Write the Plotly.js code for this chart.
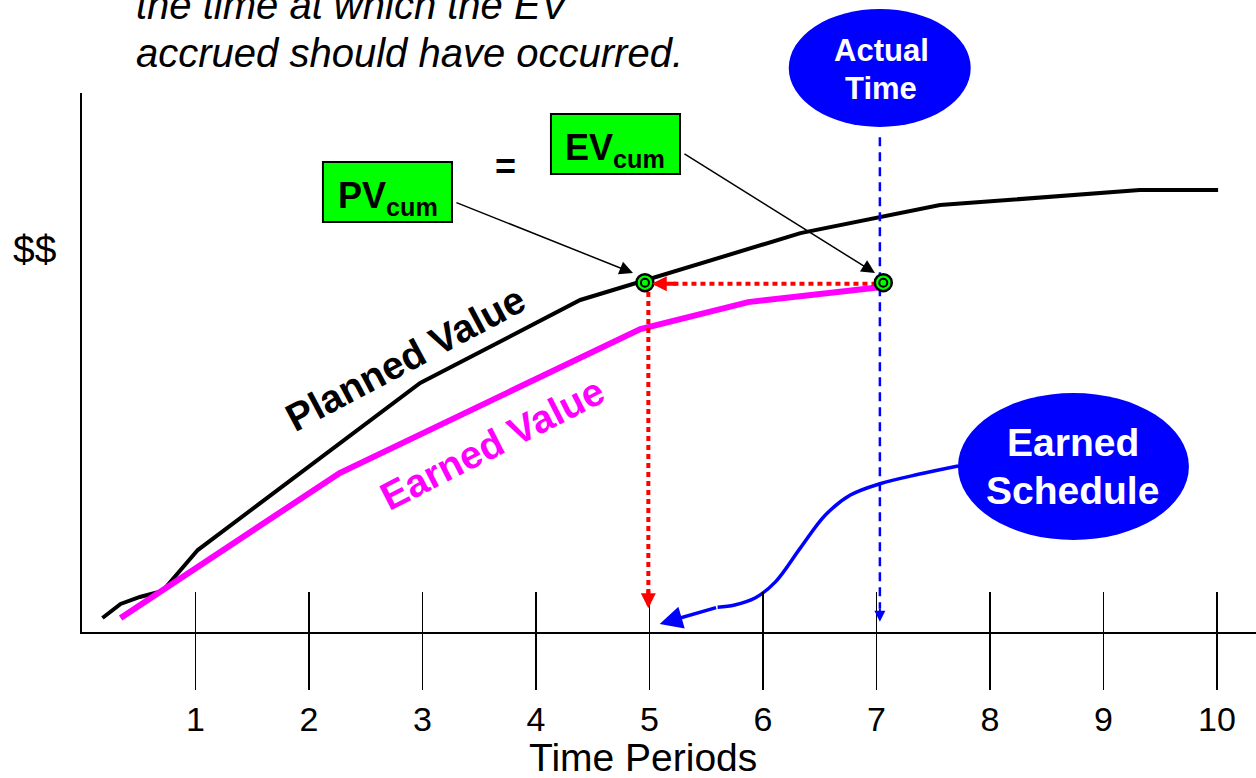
<!DOCTYPE html>
<html>
<head>
<meta charset="utf-8">
<script src="https://cdn.plot.ly/plotly-3.0.1.min.js"></script>
<style>
  html, body { margin: 0; padding: 0; background: #ffffff; }
  #chart { width: 1256px; height: 778px; }
</style>
</head>
<body>
<div id="chart"></div>
<script>
// ---- data ----
const periods = [1, 2, 3, 4, 5, 6, 7, 8, 9, 10];
const periodLabels = ['1', '2', '3', '4', '5', '6', '7', '8', '9', '10'];

const pvX = [0.18, 0.34, 0.51, 0.71, 1.02, 2.98, 4.39, 6.33, 7.56, 9.32, 10.01];
const pvY = [2.6, 5.2, 6.5, 7.6, 15.2, 46.2, 61.6, 74.0, 79.2, 82.0, 82.0];

const evX = [0.34, 2.27, 4.92, 5.87, 7.05];
const evY = [2.6, 29.5, 56.2, 61.2, 64.0];

const cumPointX = [4.96, 7.06];
const cumPointY = [64.8, 64.8];

const earnedScheduleTime = 4.99;
const actualTime = 7.03;
const evCumLevel = 64.6;

// connector curve from "Earned Schedule" bubble
const esCurveX = [7.72, 7.38, 7.03, 6.77, 6.55, 6.33, 6.11, 5.93, 5.75, 5.60];
const esCurveY = [30.8, 29.3, 27.5, 25.4, 21.7, 15.6, 9.3, 6.3, 5.0, 4.6];

const X_RANGE = [0, 10.344];
const Y_RANGE = [0, 100];
const FONT = '"Liberation Sans", Arial, Helvetica, sans-serif';

const traces = [
  { x: pvX, y: pvY, mode: 'lines', line: { color: '#000000', width: 4 }, hoverinfo: 'skip' },
  { x: evX, y: evY, mode: 'lines', line: { color: '#FF00FF', width: 6 }, hoverinfo: 'skip' },
  // red dotted vertical (earned schedule)
  { x: [earnedScheduleTime, earnedScheduleTime], y: [63.1, 7.2], mode: 'lines',
    line: { color: '#FF0000', width: 4, dash: '5px,4px' }, hoverinfo: 'skip' },
  // red dotted horizontal (EV = PV)
  { x: [7.0, 5.17], y: [evCumLevel, evCumLevel], mode: 'lines',
    line: { color: '#FF0000', width: 4, dash: '5px,4px' }, hoverinfo: 'skip' },
  // blue dashed actual time
  { x: [actualTime, actualTime], y: [91.8, 4.3], mode: 'lines',
    line: { color: '#0000FF', width: 2.5, dash: '9px,6px' }, hoverinfo: 'skip' },
  // earned schedule connector
  { x: esCurveX, y: esCurveY, mode: 'lines', line: { color: '#0000FF', width: 3.5, shape: 'spline', smoothing: 1 }, hoverinfo: 'skip' },
  // cumulative points
  { x: cumPointX, y: cumPointY, mode: 'markers',
    marker: { symbol: 'circle', size: 17, color: '#00FF00', line: { color: '#000000', width: 2.5 } }, hoverinfo: 'skip' },
  { x: cumPointX, y: cumPointY, mode: 'markers',
    marker: { symbol: 'circle-open', size: 8, color: '#000000', line: { color: '#000000', width: 2 } }, hoverinfo: 'skip' },
  // dummy for inner tick axis
  { x: [], y: [], xaxis: 'x2', yaxis: 'y', mode: 'markers', hoverinfo: 'skip' }
];

const shapes = [
  // PV cum box
  { type: 'rect', xref: 'x', yref: 'y', x0: 2.123, x1: 3.260, y0: 76.07, y1: 87.20,
    fillcolor: '#00FF00', line: { color: '#000000', width: 2 }, layer: 'above' },
  // EV cum box
  { type: 'rect', xref: 'x', yref: 'y', x0: 4.132, x1: 5.269, y0: 84.97, y1: 96.10,
    fillcolor: '#00FF00', line: { color: '#000000', width: 2 }, layer: 'above' },
  // Actual Time bubble
  { type: 'circle', xref: 'paper', yref: 'paper', x0: 0.602, x1: 0.757, y0: 0.937, y1: 1.156,
    fillcolor: '#0000FF', line: { width: 0 }, layer: 'above' },
  // Earned Schedule bubble
  { type: 'circle', xref: 'x', yref: 'y', x0: 7.718, x1: 9.753, y0: 17.07, y1: 44.34,
    fillcolor: '#0000FF', line: { width: 0 }, layer: 'above' }
];

function txt(xref, yref, x, y, text, size, color, extra) {
  return Object.assign({ xref: xref, yref: yref, x: x, y: y, xanchor: 'center', yanchor: 'middle',
    showarrow: false, text: text, font: { family: FONT, size: size, color: color } }, extra || {});
}

const annotations = [
  txt('paper', 'paper', 0.0443, 1.163, '<i>the time at which the EV</i>', 40, '#000000', { xanchor: 'left' }),
  txt('paper', 'paper', 0.0443, 1.074, '<i>accrued should have occurred.</i>', 40, '#000000', { xanchor: 'left' }),
  txt('paper', 'paper', -0.040, 0.709, '$$', 39, '#000000'),
  txt('paper', 'paper', 0.478, -0.2325, 'Time Periods', 39, '#000000', { borderpad: 0 }),
  txt('x', 'y', 2.85, 50.8, '<b>Planned Value</b>', 39, '#000000', { textangle: -28 }),
  txt('x', 'y', 3.62, 34.9, '<b>Earned Value</b>', 39, '#FF00FF', { textangle: -27 }),
  txt('x', 'y', 2.692, 80.5, '<b>PV<sub>cum</sub></b>', 36, '#000000'),
  txt('x', 'y', 4.700, 89.5, '<b>EV<sub>cum</sub></b>', 36, '#000000'),
  txt('x', 'y', 3.727, 86.3, '<b>=</b>', 36, '#000000'),
  txt('paper', 'paper', 0.6806, 1.0790, '<b>Actual</b>', 31, '#FFFFFF'),
  txt('paper', 'paper', 0.6806, 1.0085, '<b>Time</b>', 31, '#FFFFFF'),
  txt('x', 'y', 8.731, 35.2, '<b>Earned</b>', 39, '#FFFFFF'),
  txt('x', 'y', 8.731, 26.3, '<b>Schedule</b>', 39, '#FFFFFF'),
  // black arrows from boxes
  { xref: 'x', yref: 'y', axref: 'x', ayref: 'y', x: 4.855, y: 66.6, ax: 3.286, ay: 79.78,
    showarrow: true, arrowhead: 2, arrowsize: 1.8, arrowwidth: 1.5, arrowcolor: '#000000', standoff: 0, text: '' },
  { xref: 'x', yref: 'y', axref: 'x', ayref: 'y', x: 6.987, y: 66.6, ax: 5.295, ay: 88.87,
    showarrow: true, arrowhead: 2, arrowsize: 1.8, arrowwidth: 1.5, arrowcolor: '#000000', standoff: 0, text: '' },
  // red arrowheads
  { xref: 'x', yref: 'y', axref: 'x', ayref: 'y', x: earnedScheduleTime, y: 4.4, ax: earnedScheduleTime, ay: 8.0,
    showarrow: true, arrowhead: 2, arrowsize: 0.75, arrowwidth: 4, arrowcolor: '#FF0000', standoff: 0, text: '' },
  { xref: 'x', yref: 'y', axref: 'x', ayref: 'y', x: 5.02, y: evCumLevel, ax: 5.25, ay: evCumLevel,
    showarrow: true, arrowhead: 2, arrowsize: 0.75, arrowwidth: 4, arrowcolor: '#FF0000', standoff: 0, text: '' },
  // blue dashed arrowhead
  { xref: 'x', yref: 'y', axref: 'x', ayref: 'y', x: actualTime, y: 1.9, ax: actualTime, ay: 4.6,
    showarrow: true, arrowhead: 2, arrowsize: 1.1, arrowwidth: 2, arrowcolor: '#0000FF', standoff: 0, text: '' },
  // earned schedule connector arrowhead
  { xref: 'x', yref: 'y', axref: 'x', ayref: 'y', x: 5.09, y: 1.5, ax: 5.60, ay: 4.6,
    showarrow: true, arrowhead: 2, arrowsize: 1.3, arrowwidth: 3.5, arrowcolor: '#0000FF', standoff: 0, text: '' }
];

const layout = {
  width: 1256, height: 778,
  margin: { l: 82, r: 0, t: 93, b: 146, pad: 0 },
  paper_bgcolor: '#ffffff', plot_bgcolor: '#ffffff',
  showlegend: false,
  font: { family: FONT, color: '#000000' },
  xaxis: {
    range: X_RANGE, tickmode: 'array', tickvals: periods, ticktext: periodLabels,
    ticks: 'outside', ticklen: 56, tickwidth: 1.5, tickcolor: '#000000',
    tickfont: { family: FONT, size: 34, color: '#000000' },
    showgrid: false, zeroline: false, showline: true, linecolor: '#000000', linewidth: 2,
    fixedrange: true
  },
  xaxis2: {
    overlaying: 'x', anchor: 'y', side: 'bottom', range: X_RANGE,
    tickmode: 'array', tickvals: periods, ticks: 'inside', ticklen: 40, tickwidth: 1.5, tickcolor: '#000000',
    showticklabels: false, showgrid: false, zeroline: false, showline: false, fixedrange: true
  },
  yaxis: {
    range: Y_RANGE, showticklabels: false, ticks: '', showgrid: false, zeroline: false,
    showline: true, linecolor: '#000000', linewidth: 2, fixedrange: true
  },
  shapes: shapes,
  annotations: annotations
};

Plotly.newPlot('chart', traces, layout, { displayModeBar: false, staticPlot: true });
</script>
</body>
</html>
